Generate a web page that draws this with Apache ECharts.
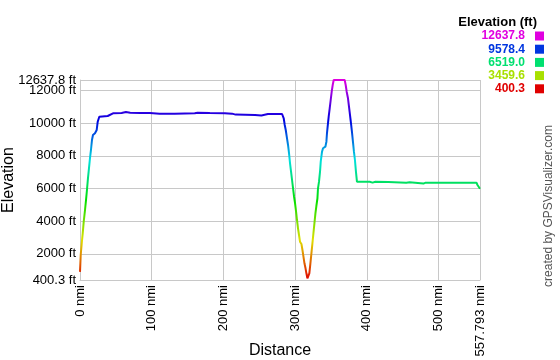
<!DOCTYPE html>
<html>
<head>
<meta charset="utf-8">
<script src="https://cdn.jsdelivr.net/npm/echarts@6/dist/echarts.min.js"></script>
<style>html,body{margin:0;padding:0;background:#fff}#c{width:560px;height:360px}</style>
</head>
<body>
<div id="c"></div>
<script>
// ---- data ----
var distance = [0, 1.0, 2.4, 3.8, 5.2, 7.0, 8.4, 9.7, 11.1, 12.5, 13.9, 15.3, 16.7, 18.1, 20.9, 23.3, 24.7, 26.9, 38.6, 39.4, 46, 58, 64, 70, 84, 97.5, 111, 132, 160, 164, 181, 202, 212, 217, 244, 253, 256, 262, 281.8, 284.1, 285.5, 286.9, 288.3, 290.1, 291.5, 292.9, 294.3, 295.7, 297.1, 298.5, 299.9, 301.3, 302.6, 304.0, 305.4, 306.8, 308.8, 310.2, 311.6, 313.0, 314.5, 315.7, 317.1, 318.2, 319.8, 321.3, 322.7, 324.1, 325.5, 326.9, 328.3, 329.6, 331.1, 331.9, 333.3, 334.7, 335.7, 337.5, 338.9, 342.2, 343.6, 344.4, 345.8, 346.8, 348.2, 349.6, 351.0, 352.4, 353.8, 369.1, 370.5, 371.9, 373.7, 375.1, 376.5, 377.9, 379.2, 380.6, 382.0, 383.4, 384.8, 386.2, 403.9, 408, 412, 430, 455, 459.6, 479, 482, 501.4, 529.2, 552.9, 554.3, 555.7, 557.793];
var elevation = [900, 1930, 2646, 3258, 3968, 4684, 5296, 5907, 6623, 7235, 7847, 8355, 8967, 9272, 9377, 9579, 10087, 10393, 10436, 10558, 10600, 10620, 10680, 10640, 10620, 10620, 10580, 10580, 10600, 10640, 10620, 10600, 10580, 10520, 10500, 10470, 10500, 10560, 10558, 10295, 9885, 9579, 9169, 8661, 8153, 7541, 7027, 6519, 6011, 5497, 5094, 4580, 4072, 3564, 3154, 2744, 2603, 2236, 1826, 1422, 1116, 810, 504, 400.3, 810, 1422, 2034, 2646, 3258, 3870, 4482, 4928, 5400, 6011, 6415, 7027, 7639, 8251, 8459, 8557, 8863, 9377, 9989, 10393, 10907, 11414, 11922, 12333, 12637.8, 12637.8, 12333, 11922, 11518, 11004, 10497, 9989, 9475, 8863, 8251, 7743, 7027, 6415, 6415, 6360, 6415, 6400, 6350, 6380, 6300, 6354, 6354, 6354, 6354, 6213, 6091, 5987];
var xTicks = [0, 100, 200, 300, 400, 500, 557.793];
var yTicks = [400.3, 2000, 4000, 6000, 8000, 10000, 12000, 12637.8];
var yRoundTicks = [2000, 4000, 6000, 8000, 10000, 12000];
var yEndTicks = [400.3, 12637.8];
var legendLabels = ["12637.8", "9578.4", "6519.0", "3459.6", "400.3"];
var legendColors = ["#e000e0", "#0036e0", "#00e070", "#a8e000", "#e00000"];
var hueColors = ["#e00000", "#e07000", "#e0e000", "#70e000", "#00e000", "#00e070", "#00e0e0", "#0070e0", "#0000e0", "#7000e0", "#e000e0"];
var yMin = 400.3, yMax = 12637.8, xMax = 557.793;

var pts = distance.map(function (d, i) { return [d, elevation[i]]; });
var FONT = "Liberation Sans, Arial, sans-serif";

var graphics = [
  { type: 'text', x: 537, y: 22, style: { text: 'Elevation (ft)', font: 'bold 13px ' + FONT, fill: '#000', align: 'right', verticalAlign: 'middle' } }
];
legendLabels.forEach(function (t, i) {
  var cy = 36 + i * 13.2;
  graphics.push({ type: 'text', x: 525, y: cy, style: { text: t, font: 'bold 12px ' + FONT, fill: legendColors[i], align: 'right', verticalAlign: 'middle' } });
  graphics.push({ type: 'rect', shape: { x: 535, y: cy - 4.5, width: 9, height: 9 }, style: { fill: legendColors[i] } });
});
graphics.push({ type: 'text', x: 549, y: 206, rotation: Math.PI / 2, style: { text: 'created by GPSVisualizer.com', font: '12px ' + FONT, fill: '#555', align: 'center', verticalAlign: 'middle' } });

var labelFmtY = function (v) { return v + ' ft'; };
var chart = echarts.init(document.getElementById('c'), null, { renderer: 'canvas' });
chart.setOption({
  animation: false,
  backgroundColor: '#fff',
  grid: { left: 80, top: 80, right: 80, bottom: 80, containLabel: false, outerBoundsMode: 'none' },
  xAxis: {
    type: 'value', min: 0, max: xMax,
    name: 'Distance', nameLocation: 'middle', nameGap: 63, nameMoveOverlap: false,
    nameTextStyle: { fontFamily: FONT, fontSize: 16, color: '#000' },
    axisLine: { show: true, lineStyle: { color: '#c8c8c8', width: 1 } },
    axisTick: { show: false, customValues: xTicks },
    splitLine: { show: true, lineStyle: { color: '#c8c8c8', width: 1 } },
    axisLabel: { customValues: xTicks, rotate: 90, margin: 5, fontFamily: FONT, fontSize: 13, color: '#000',
      showMinLabel: true, showMaxLabel: true, hideOverlap: false,
      formatter: function (v) { return v + ' nmi'; } }
  },
  yAxis: [{
    type: 'value', min: yMin, max: yMax, position: 'left',
    name: 'Elevation', nameLocation: 'middle', nameGap: 63, nameMoveOverlap: false,
    nameTextStyle: { fontFamily: FONT, fontSize: 16, color: '#000' },
    axisLine: { show: true, lineStyle: { color: '#c8c8c8', width: 1 } },
    axisTick: { show: false, customValues: yTicks },
    splitLine: { show: true, lineStyle: { color: '#c8c8c8', width: 1 } },
    axisLabel: { customValues: yRoundTicks, margin: 4, fontFamily: FONT, fontSize: 13, color: '#000',
      showMinLabel: true, showMaxLabel: true, hideOverlap: false, formatter: labelFmtY }
  }, {
    type: 'value', min: yMin, max: yMax, position: 'left', offset: 0,
    axisLine: { show: false }, axisTick: { show: false, customValues: yEndTicks }, splitLine: { show: false },
    axisLabel: { customValues: yEndTicks, margin: 4, fontFamily: FONT, fontSize: 13, color: '#000',
      showMinLabel: true, showMaxLabel: true, hideOverlap: false, formatter: labelFmtY }
  }],
  visualMap: {
    type: 'continuous', show: false, dimension: 1, seriesIndex: 0,
    min: yMin, max: yMax, inRange: { color: hueColors }
  },
  series: [{
    type: 'line', data: pts, yAxisIndex: 0, showSymbol: false, lineStyle: { width: 2 }, clip: false
  }],
  graphic: graphics
});
</script>
</body>
</html>
